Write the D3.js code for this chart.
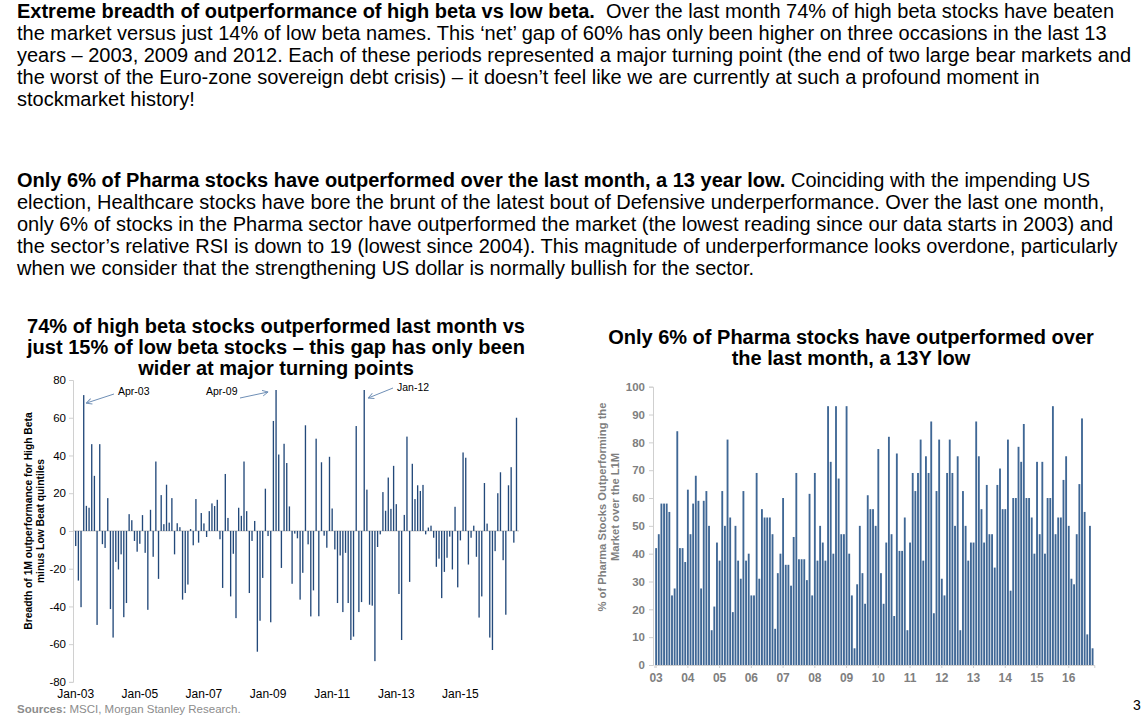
<!DOCTYPE html>
<html><head><meta charset="utf-8">
<script src="https://cdn.jsdelivr.net/npm/d3@7"></script>
<style>
html,body{margin:0;padding:0;background:#fff;}
svg{display:block;font-family:"Liberation Sans",Arial,Helvetica,sans-serif;}
</style></head>
<body><svg id="c" width="1144" height="717"></svg>
<script>
// ---------- DATA ----------
const paragraph1 = [
  [["Extreme breadth of outperformance of high beta vs low beta.", true], ["  Over the last month 74% of high beta stocks have beaten", false]],
  [["the market versus just 14% of low beta names. This \u2018net\u2019 gap of 60% has only been higher on three occasions in the last 13", false]],
  [["years \u2013 2003, 2009 and 2012. Each of these periods represented a major turning point (the end of two large bear markets and", false]],
  [["the worst of the Euro-zone sovereign debt crisis) \u2013 it doesn\u2019t feel like we are currently at such a profound moment in", false]],
  [["stockmarket history!", false]]
];
const paragraph2 = [
  [["Only 6% of Pharma stocks have outperformed over the last month, a 13 year low.", true], [" Coinciding with the impending US", false]],
  [["election, Healthcare stocks have bore the brunt of the latest bout of Defensive underperformance. Over the last one month,", false]],
  [["only 6% of stocks in the Pharma sector have outperformed the market (the lowest reading since our data starts in 2003) and", false]],
  [["the sector\u2019s relative RSI is down to 19 (lowest since 2004). This magnitude of underperformance looks overdone, particularly", false]],
  [["when we consider that the strengthening US dollar is normally bullish for the sector.", false]]
];
const leftTitle = ["74% of high beta stocks outperformed last month vs", "just 15% of low beta stocks \u2013 this gap has only been", "wider at major turning points"];
const rightTitle = ["Only 6% of Pharma stocks have outperformed over", "the last month, a 13Y low"];
const leftYTitle = ["Breadth of 1M outperformance for High Beta", "minus Low Beat quintiles"];
const rightYTitle = ["% of Pharma Stocks Outperforming the", "Market over the L1M"];

// Monthly, Jan-03 .. Oct-16 (166 months)
const leftValues = [-8,-26.3,-40.4,72,13.3,12.3,46,29.2,-49.8,46,
-7,-9,17.4,-41.4,-56.5,-16.4,-20.4,-12.4,-45.7,-38.2,
8.9,5.7,-5.3,-11,-6.8,8.4,-11.6,-41.8,11.2,-13.7,
36.8,-25.4,19,3.6,24.5,4.4,17.4,-12.4,4.1,2,
-36.4,-32.9,-28.4,1,-7.6,16.9,-6.2,9.5,4,-3.2,
10.5,14.6,13.2,16.5,-4.4,-30.2,30.2,6.9,-34.7,-12.1,
-46.2,12.3,8,36.8,10.5,-32.9,-5.3,5.3,-64,-47.6,
-24.9,22.4,-2.7,-48.4,58.3,74.7,40.5,-19.6,46.2,36,
13,-28,-1.4,-3.9,-36.4,-22.2,56,-7.1,-45.3,-31.5,
48.9,-45.2,36.4,-2.5,-8.9,39.3,11.9,-9.8,-38.2,-13,
-43,-11.6,-38.2,-57.8,-56,55.6,-43,-37.7,74.7,21.9,
-39.1,-39.6,-69,-8.5,-1.8,20.6,10.7,28.3,11.7,34.5,
14.2,-33.4,-57.8,8.5,50,-27,35.6,16.9,24.2,21.2,
24.4,-1.8,1.8,2.8,-3.6,-19,-14.7,-35.6,-21.7,-14.2,
-3,-20.4,12.8,-29.9,-5,41.6,38.8,-17.8,-3.6,2.8,
-13.7,-45.9,-34.7,25.4,3.9,-56.5,-63.1,-10.7,20,31.1,
-15.5,-44.4,24.2,33.8,-6.2,60];

const rightValues = [42,47,58,58,58,55,25,27.5,84,42,
42,37,63,47,58,68,59,27.5,59,62.5,
50,12.5,21,44,37.5,62.5,50,81,53,19,
50,37.5,31,62.5,37.5,40,25,25,69,31,
56,53,53,53,47,13,33,40,60,36,
36,28.5,46,69,38,38,38,30.5,61.5,25,
69,37.5,50,44,37.5,93,73,40,93,67,
47,47,93,40,25,6,29,50,33,22,
61,56,56,50,77.6,33,22,44,82,47,
17.6,76,41,41,53,12.5,44,69,62.5,69,
81,37.5,75,69,87.5,18.6,62.5,81,31,25,
69,81,69,50,75,12.5,62.5,50,37.5,44,
44,87.5,75,56,44,64.7,47,47,35,64.7,
70.6,56,56,81,26.7,60,60,78.4,73,86.6,
60,60,53,40,73,47,73,40,60,60,
93,47,53,53,66.5,75,50,31,29,47,
65,88.6,55,11,50,6];

const monthNames = ["Jan","Feb","Mar","Apr","May","Jun","Jul","Aug","Sep","Oct","Nov","Dec"];
const months = d3.range(166).map(i => monthNames[i % 12] + "-" + String(3 + Math.floor(i / 12)).padStart(2, "0"));
const leftXTicks = ["Jan-03","Jan-05","Jan-07","Jan-09","Jan-11","Jan-13","Jan-15"];
const rightXTicks = ["Jan-03","Jan-04","Jan-05","Jan-06","Jan-07","Jan-08","Jan-09","Jan-10","Jan-11","Jan-12","Jan-13","Jan-14","Jan-15","Jan-16"];
const leftYTicks = [-80,-60,-40,-20,0,20,40,60,80];
const rightYTicks = [0,10,20,30,40,50,60,70,80,90,100];
const annotations = [
  {month: "Apr-03", label: "Apr-03"},
  {month: "Apr-09", label: "Apr-09"},
  {month: "Jan-12", label: "Jan-12"}
];

// ---------- DRAW ----------
const svg = d3.select("#c");
svg.append("rect").attr("width",1144).attr("height",717).attr("fill","#fff");

function para(lines, y0) {
  lines.forEach((parts, k) => {
    const t = svg.append("text").attr("x", 17).attr("y", y0 + k * 22)
      .attr("font-size", 20).attr("fill", "#000");
    parts.forEach(p => t.append("tspan").attr("font-weight", p[1] ? "bold" : "normal")
      .attr("xml:space","preserve").text(p[0]));
  });
}
para(paragraph1, 18);
para(paragraph2, 187);

// ---- Left chart ----
const lx = d3.scaleBand().domain(months).range([73.7, 518.5]).padding(0.5);
const ly = d3.scaleLinear().domain([-80, 80]).range([681.9, 380]);

leftTitle.forEach((s, k) => svg.append("text").attr("x", 276).attr("y", 333 + k * 21)
  .attr("text-anchor","middle").attr("font-size", 20).attr("font-weight","bold").text(s));

const lyAxis = svg.append("g").attr("transform","translate(73,0)")
  .call(d3.axisLeft(ly).tickValues(leftYTicks).tickSize(4).tickPadding(3).tickFormat(d => String(d)));
lyAxis.selectAll("path,line").attr("stroke","#d0d0d0");
lyAxis.selectAll("text").attr("font-size",11.5).attr("fill","#000")
  .attr("font-family","Liberation Sans, Arial, sans-serif");

svg.append("line").attr("x1",73).attr("x2",519).attr("y1",ly(0)).attr("y2",ly(0))
  .attr("stroke","#c4c4c4").attr("stroke-width",1);

svg.append("g").selectAll("rect").data(leftValues).join("rect")
  .attr("x",(d,i)=>lx(months[i]))
  .attr("width", lx.bandwidth())
  .attr("y", d => ly(Math.max(0,d)))
  .attr("height", d => Math.abs(ly(d) - ly(0)))
  .attr("fill","#23497a");

const lxAxis = svg.append("g").attr("transform","translate(0,688)")
  .call(d3.axisBottom(lx).tickValues(leftXTicks).tickSize(0).tickPadding(1));
lxAxis.select(".domain").remove();
lxAxis.selectAll("text").attr("font-size",12).attr("fill","#000")
  .attr("font-family","Liberation Sans, Arial, sans-serif");

const lyt = svg.append("text").attr("transform","translate(32,521) rotate(-90)")
  .attr("text-anchor","middle").attr("font-size",10.3).attr("font-weight","bold");
leftYTitle.forEach((s,k)=> lyt.append("tspan").attr("x",0).attr("dy", k===0?0:11.5).text(s));

// annotations
const defs = svg.append("defs");
defs.append("marker").attr("id","ah").attr("viewBox","0 0 10 10").attr("refX",9).attr("refY",5)
  .attr("markerWidth",7).attr("markerHeight",7).attr("orient","auto")
  .append("path").attr("d","M1,1 L9,5 L1,9").attr("fill","none").attr("stroke","#6f8fb6").attr("stroke-width",1.3);
const annoGeom = [
  {tx:118, ty:395, x1:114, y1:394, dx:2.5, dy: 8},
  {tx:206, ty:395, x1:240, y1:398, dx:-8, dy: 2},
  {tx:397, ty:391, x1:393, y1:388, dx:4, dy: 8}
];
annotations.forEach((a, k) => {
  const g = annoGeom[k];
  const bx = lx(a.month) + lx.bandwidth()/2;
  const by = ly(leftValues[months.indexOf(a.month)]);
  svg.append("text").attr("x", g.tx).attr("y", g.ty).attr("font-size",10.5).attr("fill","#000").text(a.label);
  svg.append("line").attr("x1", g.x1).attr("y1", g.y1).attr("x2", bx + g.dx).attr("y2", by + g.dy)
    .attr("stroke","#6f8fb6").attr("stroke-width",1).attr("marker-end","url(#ah)");
});

// ---- Right chart ----
const rx = d3.scaleBand().domain(months).range([654.4, 1094.3]).padding(0.3);
const ry = d3.scaleLinear().domain([0, 100]).range([665, 386.7]);

rightTitle.forEach((s, k) => svg.append("text").attr("x", 851).attr("y", 344 + k * 21)
  .attr("text-anchor","middle").attr("font-size", 20).attr("font-weight","bold").text(s));

const ryAxis = svg.append("g").attr("transform","translate(653,0)")
  .call(d3.axisLeft(ry).tickValues(rightYTicks).tickSize(4).tickPadding(4));
ryAxis.selectAll("path,line").attr("stroke","#cfcfcf");
ryAxis.selectAll("text").attr("font-size",11.5).attr("fill","#7f7f7f").attr("font-weight","bold")
  .attr("font-family","Liberation Sans, Arial, sans-serif");

svg.append("g").selectAll("rect").data(rightValues).join("rect")
  .attr("x",(d,i)=>rx(months[i]))
  .attr("width", rx.bandwidth())
  .attr("y", d => ry(d))
  .attr("height", d => ry(0) - ry(d))
  .attr("fill","#3f6795");

const rxAxis = svg.append("g").attr("transform","translate(0,665)")
  .call(d3.axisBottom(rx).tickValues(rightXTicks).tickSize(3).tickPadding(5)
    .tickFormat(d => d.slice(4)));
rxAxis.select(".domain").attr("stroke","#cfcfcf");
rxAxis.selectAll("line").attr("stroke","#cfcfcf");
rxAxis.selectAll("text").attr("font-size",12).attr("fill","#7f7f7f").attr("font-weight","bold")
  .attr("font-family","Liberation Sans, Arial, sans-serif");

const ryt = svg.append("text").attr("transform","translate(606,507) rotate(-90)")
  .attr("text-anchor","middle").attr("font-size",11.2).attr("font-weight","bold").attr("fill","#7f7f7f");
rightYTitle.forEach((s,k)=> ryt.append("tspan").attr("x",0).attr("dy", k===0?0:12.5).text(s));

// ---- Footer ----
const src = svg.append("text").attr("x",17).attr("y",713).attr("font-size",11.5).attr("fill","#8c8c8c");
src.append("tspan").attr("font-weight","bold").text("Sources:");
src.append("tspan").text(" MSCI, Morgan Stanley Research.");
svg.append("text").attr("x",1133).attr("y",710).attr("font-size",14).attr("fill","#000").text("3");
</script></body></html>
